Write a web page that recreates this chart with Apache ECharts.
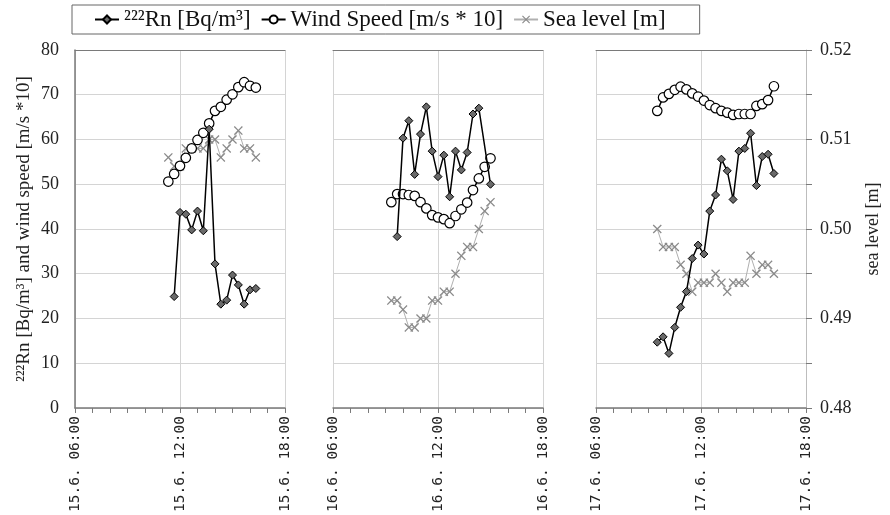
<!DOCTYPE html>
<html>
<head>
<meta charset="utf-8">
<script src="https://cdn.jsdelivr.net/npm/echarts@6/dist/echarts.min.js"></script>
<style>
  html, body { margin: 0; padding: 0; background: #fff; }
  #chart { width: 890px; height: 515px; }
</style>
</head>
<body>
<div id="chart"></div>
<script>
// ---- data ----
const panelDays = ['15.6.', '16.6.', '17.6.'];

const p1WindTimes = ['11:20','11:40','12:00','12:20','12:40','13:00','13:20','13:40','14:00','14:20','14:40','15:00','15:20','15:40','16:00','16:20'];
const p1Wind = [50.6, 52.3, 54.1, 55.9, 58.0, 59.9, 61.5, 63.6, 66.4, 67.3, 68.9, 70.1, 71.7, 72.8, 72.0, 71.6];
const p1Sea = [0.508, 0.507, 0.507, 0.509, 0.509, 0.509, 0.509, 0.510, 0.510, 0.508, 0.509, 0.510, 0.511, 0.509, 0.509, 0.508];
const p1RnTimes = ['11:40','12:00','12:20','12:40','13:00','13:20','13:40','14:00','14:20','14:40','15:00','15:20','15:40','16:00','16:20'];
const p1Rn = [24.9, 43.7, 43.3, 39.8, 44.0, 39.6, 62.3, 32.2, 23.2, 24.1, 29.7, 27.5, 23.2, 26.4, 26.7];

const p2WindTimes = ['09:20','09:40','10:00','10:20','10:40','11:00','11:20','11:40','12:00','12:20','12:40','13:00','13:20','13:40','14:00','14:20','14:40','15:00'];
const p2Wind = [46.0, 47.8, 47.8, 47.6, 47.4, 46.0, 44.6, 43.1, 42.6, 42.2, 41.3, 42.9, 44.4, 45.9, 48.7, 51.3, 53.9, 55.8];
const p2Sea = [0.492, 0.492, 0.491, 0.489, 0.489, 0.490, 0.490, 0.492, 0.492, 0.493, 0.493, 0.495, 0.497, 0.498, 0.498, 0.500, 0.502, 0.503];
const p2RnTimes = ['09:40','10:00','10:20','10:40','11:00','11:20','11:40','12:00','12:20','12:40','13:00','13:20','13:40','14:00','14:20','15:00'];
const p2Rn = [38.3, 60.3, 64.2, 52.2, 61.2, 67.3, 57.4, 51.7, 56.5, 47.2, 57.4, 53.2, 57.1, 65.7, 67.0, 50.0];

const p3WindTimes = ['09:30','09:50','10:10','10:30','10:50','11:10','11:30','11:50','12:10','12:30','12:50','13:10','13:30','13:50','14:10','14:30','14:50','15:10','15:30','15:50','16:10'];
const p3Wind = [66.4, 69.4, 70.2, 71.1, 71.8, 71.2, 70.3, 69.6, 68.7, 67.7, 67.0, 66.4, 66.0, 65.5, 65.7, 65.7, 65.7, 67.5, 67.9, 68.8, 71.9];
const p3Sea = [0.500, 0.498, 0.498, 0.498, 0.496, 0.495, 0.493, 0.494, 0.494, 0.494, 0.495, 0.494, 0.493, 0.494, 0.494, 0.494, 0.497, 0.495, 0.496, 0.496, 0.495];
const p3RnTimes = p3WindTimes;
const p3Rn = [14.7, 15.9, 12.2, 18.0, 22.5, 26.0, 33.4, 36.4, 34.4, 44.0, 47.6, 55.6, 53.0, 46.6, 57.4, 58.0, 61.4, 49.7, 56.2, 56.7, 52.4];

const nameRn = '\u00B2\u00B2\u00B2Rn [Bq/m\u00B3]';
const nameWind = 'Wind Speed [m/s * 10]';
const nameSea = 'Sea level [m]';
const leftAxisTitle = '\u00B2\u00B2\u00B2Rn [Bq/m\u00B3] and wind speed [m/s *10]';
const rightAxisTitle = 'sea level [m]';

// ---- helpers ----
function toHour(t) { const [h, m] = t.split(':').map(Number); return h + m / 60; }
function pairs(times, vals) { return times.map((t, i) => [toHour(t), vals[i]]); }

const panels = [
  { wt: p1WindTimes, w: p1Wind, s: p1Sea, rt: p1RnTimes, r: p1Rn },
  { wt: p2WindTimes, w: p2Wind, s: p2Sea, rt: p2RnTimes, r: p2Rn },
  { wt: p3WindTimes, w: p3Wind, s: p3Sea, rt: p3RnTimes, r: p3Rn }
];
const gridLefts = [75, 333, 596];
const serif = 'Liberation Serif';
const mono = 'DejaVu Sans Mono';
const gridColor = '#d4d4d4';
const axisColor = '#7a7a7a';

const grids = gridLefts.map(l => ({ left: l, width: 210, top: 50, height: 358 }));
const xAxes = [];
const yAxes = [];
const series = [];

panels.forEach((p, i) => {
  xAxes.push({
    type: 'value', gridIndex: i, min: 6, max: 18, interval: 6, position: 'bottom',
    axisLine: { show: true, lineStyle: { color: axisColor, width: 1.5 } },
    axisTick: { show: true, inside: false, length: 5, lineStyle: { color: axisColor } },
    minorTick: { show: true, splitNumber: 6, length: 5, lineStyle: { color: axisColor } },
    splitLine: { show: true, lineStyle: { color: gridColor } },
    axisLabel: {
      rotate: 90, fontFamily: mono, fontSize: 14.5, color: '#222', margin: 8,
      formatter: v => panelDays[i] + ' ' + String(v).padStart(2, '0') + ':00'
    }
  });
});
panels.forEach((p, i) => {
  xAxes.push({
    type: 'value', gridIndex: i, min: 6, max: 18, position: 'top',
    axisLine: { show: true, onZero: false, lineStyle: { color: axisColor, width: 1 } },
    axisTick: { show: false }, axisLabel: { show: false }, splitLine: { show: false }
  });
});
panels.forEach((p, i) => {
  yAxes.push({
    type: 'value', gridIndex: i, min: 0, max: 80, interval: 10, position: 'left',
    axisLine: { show: i === 0, lineStyle: { color: axisColor, width: 1.5 } },
    axisTick: { show: false },
    splitLine: { show: true, lineStyle: { color: gridColor } },
    axisLabel: { show: i === 0, fontFamily: serif, fontSize: 18, color: '#222', margin: 16 },
    name: i === 0 ? leftAxisTitle : '',
    nameLocation: 'middle', nameGap: 41, nameRotate: 90,
    nameTextStyle: { fontFamily: serif, fontSize: 19, color: '#222' }
  });
});
panels.forEach((p, i) => {
  yAxes.push({
    type: 'value', gridIndex: i, min: 0.48, max: 0.52, interval: 0.01, position: 'right',
    axisLine: { show: i === 2, lineStyle: { color: '#bdbdbd', width: 1 } },
    axisTick: { show: i === 2, length: 6, lineStyle: { color: axisColor } },
    minorTick: { show: i === 2, splitNumber: 2, length: 6, lineStyle: { color: axisColor } },
    splitLine: { show: false },
    axisLabel: { show: i === 2, fontFamily: serif, fontSize: 18, color: '#222', margin: 14,
      formatter: v => v.toFixed(2) },
    name: i === 2 ? rightAxisTitle : '',
    nameLocation: 'middle', nameGap: 58, nameRotate: 90,
    nameTextStyle: { fontFamily: serif, fontSize: 18, color: '#222' }
  });
});

const xPath = 'path://M1,0L5,4L9,0L10,1L6,5L10,9L9,10L5,6L1,10L0,9L4,5L0,1Z';

panels.forEach((p, i) => {
  series.push({
    name: nameSea, type: 'line', xAxisIndex: i, yAxisIndex: 3 + i,
    data: pairs(p.wt, p.s), z: 2,
    symbol: xPath, symbolSize: 9, showAllSymbol: true,
    lineStyle: { color: '#b0b0b0', width: 1 },
    itemStyle: { color: '#8a8a8a' }
  });
  series.push({
    name: nameWind, type: 'line', xAxisIndex: i, yAxisIndex: i,
    data: pairs(p.wt, p.w), z: 3,
    symbol: 'circle', symbolSize: 9.5, showAllSymbol: true,
    lineStyle: { color: '#000', width: 1.5 },
    itemStyle: { color: '#fff', borderColor: '#000', borderWidth: 1.2 }
  });
  series.push({
    name: nameRn, type: 'line', xAxisIndex: i, yAxisIndex: i,
    data: pairs(p.rt, p.r), z: 4,
    symbol: 'diamond', symbolSize: 8, showAllSymbol: true,
    lineStyle: { color: '#000', width: 1.5 },
    itemStyle: { color: '#6a6a6a', borderColor: '#000', borderWidth: 1 }
  });
});

const chart = echarts.init(document.getElementById('chart'), null, { renderer: 'canvas' });
chart.setOption({
  animation: false,
  backgroundColor: '#fff',
  legend: {
    data: [nameRn, nameWind, nameSea],
    left: 72, top: 5,
    padding: [3, 34, 3, 22],
    borderColor: '#666', borderWidth: 1,
    itemWidth: 24, itemHeight: 10, itemGap: 10,
    textStyle: { fontFamily: serif, fontSize: 23, color: '#111' }
  },
  grid: grids,
  xAxis: xAxes,
  yAxis: yAxes,
  series: series
});
</script>
</body>
</html>
